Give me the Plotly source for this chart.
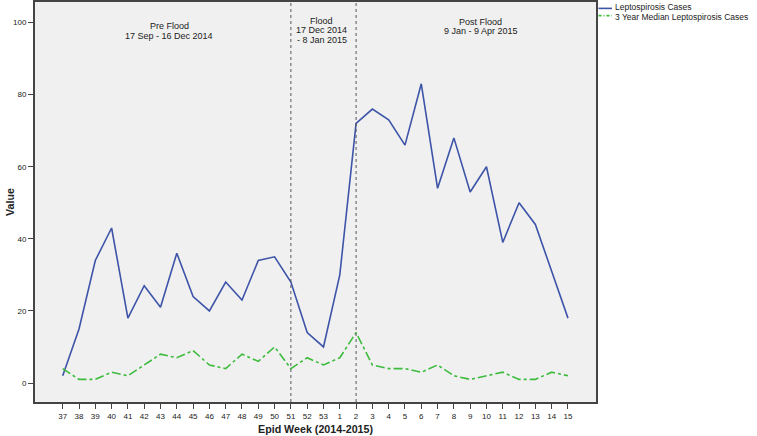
import plotly.graph_objects as go

weeks = ["37","38","39","40","41","42","43","44","45","46","47","48","49","50","51","52","53",
         "1","2","3","4","5","6","7","8","9","10","11","12","13","14","15"]
cases = [2,15,34,43,18,27,21,36,24,20,28,23,34,35,28,14,10,
         30,72,76,73,66,83,54,68,53,60,39,50,44,31,18]
median3yr = [4,1,1,3,2,5,8,7,9,5,4,8,6,10,4,7,5,
             7,14,5,4,4,3,5,2,1,2,3,1,1,3,2]
series_names = ["Leptospirosis Cases", "3 Year Median Leptospirosis Cases"]
flood_start_week = "51"
flood_end_week = "2"
period_labels = [
    ["Pre Flood", "17 Sep - 16 Dec 2014"],
    ["Flood", "17 Dec 2014", "- 8 Jan 2015"],
    ["Post Flood", "9 Jan - 9 Apr 2015"],
]
x_title = "Epid Week (2014-2015)"
y_title = "Value"

x = list(range(len(weeks)))
FONT = "Liberation Sans, Arial, sans-serif"
BLUE = "#3d54a8"
GREEN = "#3dbb3d"
TXT = "#222222"

fig = go.Figure()
fig.add_trace(go.Scatter(x=x, y=cases, mode="lines", name=series_names[0],
                         line=dict(color=BLUE, width=1.6), showlegend=False))
fig.add_trace(go.Scatter(x=x, y=median3yr, mode="lines", name=series_names[1],
                         line=dict(color=GREEN, width=1.6, dash="dashdot"), showlegend=False))

for wk in (flood_start_week, flood_end_week):
    xi = weeks.index(wk)
    fig.add_shape(type="line", xref="x", yref="paper", x0=xi, x1=xi, y0=0, y1=1,
                  line=dict(color="#555555", width=1, dash="dot"))

# period annotations (one annotation per text line)
period_x = [6.55, 15.89, 25.65]
period_y = [[98.97, 96.2], [100.36, 97.86, 95.2], [100.2, 97.6]]
for lines, xa, ys in zip(period_labels, period_x, period_y):
    for txt, ya in zip(lines, ys):
        fig.add_annotation(x=xa, y=ya, xref="x", yref="y", text=txt, showarrow=False,
                           xanchor="center", yanchor="middle",
                           font=dict(family=FONT, size=9, color=TXT))

# legend (drawn beside the plot area)
leg_rows = [(0.984, 0.988, BLUE, "solid"), (0.966, 0.963, GREEN, "3px,2px,1px,2px")]
for name, (ly, ty, col, dsh) in zip(series_names, leg_rows):
    fig.add_shape(type="line", xref="paper", yref="paper", x0=1.0045, x1=1.0285,
                  y0=ly, y1=ly, line=dict(color=col, width=1.6, dash=dsh))
    fig.add_annotation(x=1.031, y=ty, xref="paper", yref="paper", text=name,
                       showarrow=False, xanchor="left", yanchor="middle",
                       font=dict(family=FONT, size=8.5, color=TXT))

# axis titles
fig.add_annotation(x=0.5, y=-0.0675, xref="paper", yref="paper", text="<b>%s</b>" % x_title,
                   showarrow=False, xanchor="center", yanchor="middle",
                   font=dict(family=FONT, size=10.7, color=TXT))
fig.add_annotation(x=-0.0446, y=0.5, xref="paper", yref="paper", text="<b>%s</b>" % y_title,
                   showarrow=False, xanchor="center", yanchor="middle", textangle=-90,
                   font=dict(family=FONT, size=10.7, color=TXT))

fig.update_layout(
    width=757, height=436,
    margin=dict(l=35, r=161, t=2, b=34),
    paper_bgcolor="white", plot_bgcolor="#f0f0f0",
    font=dict(family=FONT, size=8, color=TXT),
    showlegend=False,
)
fig.update_xaxes(range=[-1.70, 32.72], tickvals=x, ticktext=weeks, automargin=False,
                 ticks="outside", ticklen=5, tickcolor="#444444", tickwidth=1,
                 showgrid=False, zeroline=False,
                 showline=True, linecolor="#444444", linewidth=2, mirror=True,
                 tickfont=dict(size=8, color=TXT))
fig.update_yaxes(range=[-5.27, 105.7], tickvals=[0, 20, 40, 60, 80, 100], automargin=False,
                 ticks="outside", ticklen=5, tickcolor="#444444", tickwidth=1,
                 showgrid=False, zeroline=False,
                 showline=True, linecolor="#444444", linewidth=2, mirror=True,
                 tickfont=dict(size=8, color=TXT))

fig.write_html("out.html", config={"displayModeBar": False},
               post_script="document.body.style.margin='0';")
